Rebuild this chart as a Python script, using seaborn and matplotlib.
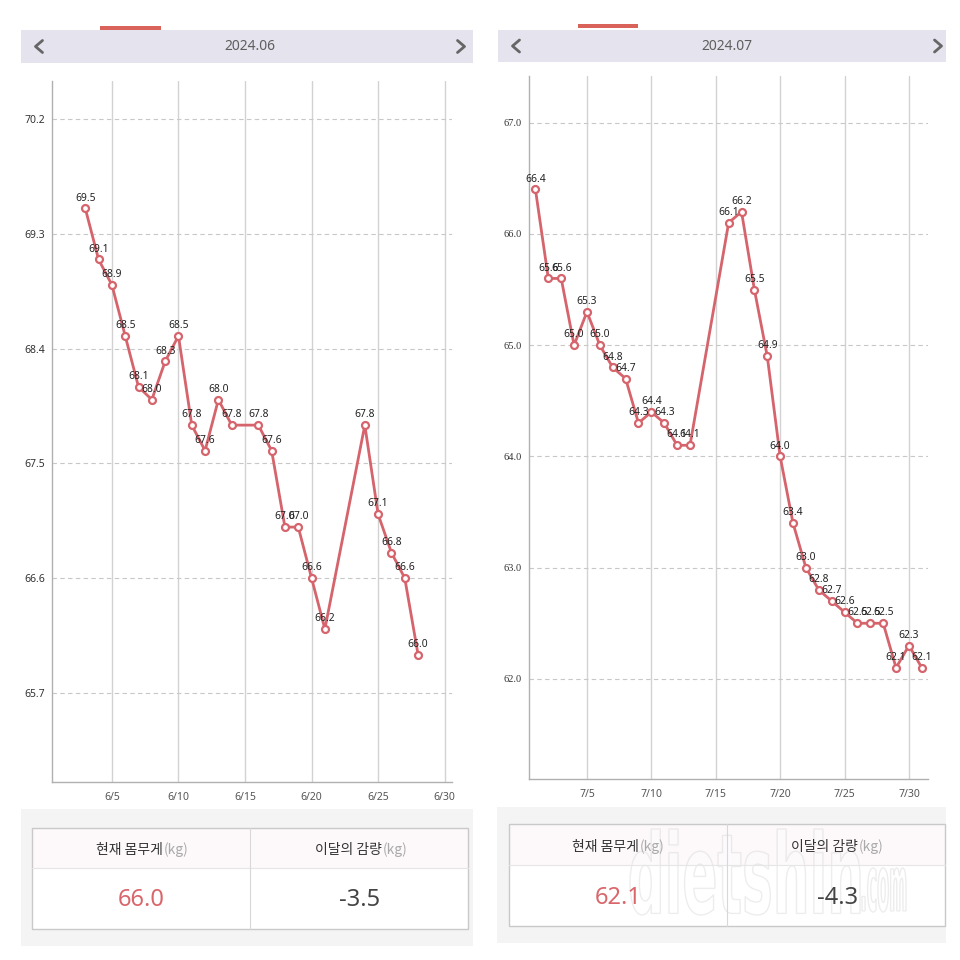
import matplotlib
matplotlib.use("Agg")
import matplotlib.pyplot as plt
import seaborn as sns
import pandas as pd
from matplotlib.patches import Rectangle, PathPatch
from matplotlib.lines import Line2D
from matplotlib.textpath import TextPath
from matplotlib.font_manager import FontProperties
from matplotlib.transforms import Affine2D

# ---------------- data ----------------
june_days = [3, 4, 5, 6, 7, 8, 9, 10, 11, 12, 13, 14, 16, 17, 18, 19, 20, 21, 24, 25, 26, 27, 28]
june_kg = [69.5, 69.1, 68.9, 68.5, 68.1, 68.0, 68.3, 68.5, 67.8, 67.6, 68.0, 67.8, 67.8, 67.6,
           67.0, 67.0, 66.6, 66.2, 67.8, 67.1, 66.8, 66.6, 66.0]
july_days = [1, 2, 3, 4, 5, 6, 7, 8, 9, 10, 11, 12, 13, 16, 17, 18, 19, 20, 21, 22, 23, 24,
             25, 26, 27, 28, 29, 30, 31]
july_kg = [66.4, 65.6, 65.6, 65.0, 65.3, 65.0, 64.8, 64.7, 64.3, 64.4, 64.3, 64.1, 64.1,
           66.1, 66.2, 65.5, 64.9, 64.0, 63.4, 63.0, 62.8, 62.7, 62.6, 62.5, 62.5, 62.5,
           62.1, 62.3, 62.1]
june_yticks = [65.7, 66.6, 67.5, 68.4, 69.3, 70.2]
july_yticks = [62.0, 63.0, 64.0, 65.0, 66.0, 67.0]
xtick_days = [5, 10, 15, 20, 25, 30]
june_xlabels = ["6/5", "6/10", "6/15", "6/20", "6/25", "6/30"]
july_xlabels = ["7/5", "7/10", "7/15", "7/20", "7/25", "7/30"]
titles = ["2024.06", "2024.07"]
current_weight = ["66.0", "62.1"]
month_change = ["-3.5", "-4.3"]
col_headers = ["현재 몸무게", "이달의 감량"]
unit_text = "(kg)"

# ---------------- style ----------------
sns.set_theme(style="white")
plt.rcParams["font.family"] = ["Noto Sans CJK KR", "DejaVu Sans"]

LINE = "#d5646c"
TAB = "#d9625b"
HEADER_BG = "#e5e4ee"
GRAY_BG = "#f4f4f5"

W = H = 960
fig = plt.figure(figsize=(9.6, 9.6), dpi=100)
fig.patch.set_facecolor("white")


def fx(x):
    return x / W


def fy(y):
    return 1 - y / H


def rect(x0, y0, x1, y1, **kw):
    fig.add_artist(Rectangle((fx(x0), fy(y1)), fx(x1) - fx(x0), fy(y0) - fy(y1),
                             transform=fig.transFigure, **kw))


def hline(x0, x1, y, **kw):
    fig.add_artist(Line2D([fx(x0), fx(x1)], [fy(y), fy(y)], transform=fig.transFigure, **kw))


def vline(x, y0, y1, **kw):
    fig.add_artist(Line2D([fx(x), fx(x)], [fy(y0), fy(y1)], transform=fig.transFigure, **kw))


def chevron(xc, yc, left=True):
    dx, dy = 3.5, 6
    if left:
        xs = [xc + dx, xc - dx, xc + dx]
    else:
        xs = [xc - dx, xc + dx, xc - dx]
    ys = [yc - dy, yc, yc + dy]
    fig.add_artist(Line2D([fx(v) for v in xs], [fy(v) for v in ys], transform=fig.transFigure,
                          color="#666666", lw=2.0, solid_capstyle="round", solid_joinstyle="round"))


panels = [
    dict(days=june_days, kg=june_kg, box=(52, 81, 452, 782), xlim=(0.5, 30.55), ylim=(65.0, 70.5),
         yticks=june_yticks, xlabels=june_xlabels, header=(21, 30, 473, 63), tab=(100, 26, 161, 30),
         title_xy=(250, 47), chev=(39, 461), summary=(21, 809, 473, 946), table=(32, 828, 468, 929),
         hdiv=868, vdiv=250, head_y=850, val_y=900, split=(163, 382), val_x=(141, 360),
         yfont=["Noto Sans", "DejaVu Sans"]),
    dict(days=july_days, kg=july_kg, box=(529, 76, 928, 779), xlim=(0.5, 31.48), ylim=(61.10, 67.42),
         yticks=july_yticks, xlabels=july_xlabels, header=(498, 30, 946, 62), tab=(578, 24, 638, 28),
         title_xy=(727, 46), chev=(516, 938), summary=(497, 807, 946, 943), table=(509, 824, 945, 926),
         hdiv=865, vdiv=727, head_y=847, val_y=898, split=(639, 858), val_x=(618, 838),
         yfont=["Liberation Serif", "DejaVu Serif"]),
]

for i, p in enumerate(panels):
    # header bar
    hx0, hy0, hx1, hy1 = p["header"]
    rect(hx0, hy0, hx1, hy1, facecolor=HEADER_BG, edgecolor="none")
    tx0, ty0, tx1, ty1 = p["tab"]
    rect(tx0, ty0, tx1, ty1, facecolor=TAB, edgecolor="none")
    fig.text(fx(p["title_xy"][0]), fy(p["title_xy"][1]), titles[i], ha="center", va="center",
             fontsize=10, color="#5e5e5e", family=["Noto Sans", "DejaVu Sans"])
    chevron(p["chev"][0], (hy0 + hy1) / 2, left=True)
    chevron(p["chev"][1], (hy0 + hy1) / 2, left=False)

    # chart
    x0, y0, x1, y1 = p["box"]
    ax = fig.add_axes([fx(x0), fy(y1), fx(x1) - fx(x0), fy(y0) - fy(y1)])
    df = pd.DataFrame({"day": p["days"], "kg": p["kg"]})
    sns.lineplot(data=df, x="day", y="kg", ax=ax, color=LINE, linewidth=2.0, marker="o",
                 markersize=5, markerfacecolor="white", markeredgecolor=LINE, markeredgewidth=1.6,
                 zorder=3)
    for d, v in zip(p["days"], p["kg"]):
        ax.annotate(f"{v:.1f}", (d, v), xytext=(0, 3.5), textcoords="offset points", ha="center",
                    va="bottom", fontsize=7.4, color="#222222", zorder=4,
                    family=["Noto Sans", "DejaVu Sans"])
    ax.set_xlim(*p["xlim"])
    ax.set_ylim(*p["ylim"])
    ax.set_yticks(p["yticks"])
    ax.set_yticklabels([f"{t:.1f}" for t in p["yticks"]], family=p["yfont"])
    ax.set_xticks(xtick_days)
    ax.set_xticklabels(p["xlabels"], family=["Noto Sans", "DejaVu Sans"])
    ax.set_xlabel("")
    ax.set_ylabel("")
    ax.set_facecolor("white")
    ax.grid(axis="y", linestyle=(0, (4, 3)), color="#c8c8c8", linewidth=0.8)
    ax.grid(axis="x", linestyle="-", color="#d2d2d2", linewidth=1.0)
    ax.set_axisbelow(True)
    ax.tick_params(axis="both", length=0)
    ax.tick_params(axis="y", pad=5, labelsize=7.5, labelcolor="#333333")
    ax.tick_params(axis="x", pad=7, labelsize=7.5, labelcolor="#555555")
    for s in ["top", "right"]:
        ax.spines[s].set_visible(False)
    for s in ["left", "bottom"]:
        ax.spines[s].set_color("#b0b0b0")
        ax.spines[s].set_linewidth(1.0)

    # summary box
    sx0, sy0, sx1, sy1 = p["summary"]
    rect(sx0, sy0, sx1, sy1, facecolor=GRAY_BG, edgecolor="none")
    bx0, by0, bx1, by1 = p["table"]
    rect(bx0, by0, bx1, by1, facecolor="white", edgecolor="none")
    rect(bx0, by0, bx1, p["hdiv"], facecolor="#fdf9fb", edgecolor="none")
    rect(bx0, by0, bx1, by1, facecolor="none", edgecolor="#c9c9c9", linewidth=1.0)
    hline(bx0, bx1, p["hdiv"], color="#e6e6e6", lw=0.8)
    vline(p["vdiv"], by0, by1, color="#d8d8d8", lw=0.8)
    for j in range(2):
        sx = p["split"][j]
        fig.text(fx(sx), fy(p["head_y"]), col_headers[j], ha="right", va="center", fontsize=10,
                 color="#333333")
        fig.text(fx(sx + 1), fy(p["head_y"]), unit_text, ha="left", va="center", fontsize=10,
                 color="#aaaaaa")
    fig.text(fx(p["val_x"][0]), fy(p["val_y"]), current_weight[i], ha="center", va="center",
             fontsize=17, color="#d9666b", family=["Noto Sans", "DejaVu Sans"])
    fig.text(fx(p["val_x"][1]), fy(p["val_y"]), month_change[i], ha="center", va="center",
             fontsize=17, color="#444444", family=["Noto Sans", "DejaVu Sans"])


# faint watermark over the right summary
def watermark(text, bx0, by0, bx1, by1):
    tp = TextPath((0, 0), text, size=1, prop=FontProperties(family="DejaVu Sans", weight="bold"))
    ext = tp.get_extents()
    sxs = (fx(bx1) - fx(bx0)) / ext.width
    sys_ = (fy(by0) - fy(by1)) / ext.height
    tr = Affine2D().translate(-ext.x0, -ext.y0).scale(sxs, sys_).translate(fx(bx0), fy(by1))
    path = tr.transform_path(tp)
    fig.add_artist(PathPatch(path, transform=fig.transFigure, facecolor=(1, 1, 1, 0.25),
                             edgecolor=(0.8, 0.8, 0.8, 0.35), linewidth=1.0))


watermark("dietshin", 630, 829, 860, 915)
watermark(".com", 862, 868, 906, 912)

fig.savefig("out.png", dpi=100, facecolor="white")
